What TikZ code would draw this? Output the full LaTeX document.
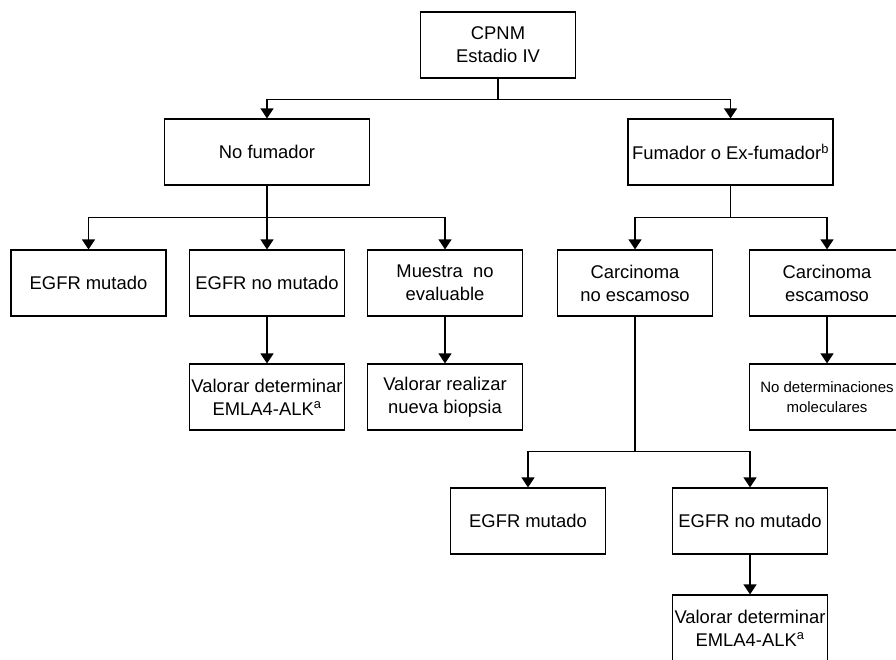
\documentclass[tikz,border=0pt]{standalone}
\usepackage{fontspec}
\setmainfont{Liberation Sans}
\usepackage{tikz}
\usetikzlibrary{arrows.meta}

\begin{document}
\begin{tikzpicture}[x=1pt, y=-1pt,
		box/.style={draw, line width=1.2pt, minimum width=155pt, minimum height=66pt, inner sep=0pt, align=center, font=\fontsize{18.4}{23}\selectfont},
		link/.style={draw, line width=1.2pt, -{Triangle[width=13pt, length=10pt]}}]
			\clip (0,0) rectangle (896,659);

			\node[box] (1) at (498,45) {CPNM\\Estadio IV};

			\node[box, minimum width=205pt] (2) at (267,152) {No fumador};
			\node[box, minimum width=205pt] (3) at (730.5,152) {Fumador o Ex-fumador\textsuperscript{b}};

			\node[box] (4) at (88.5,283) {EGFR mutado};
			\node[box] (5) at (267,283) {EGFR no mutado};
			\node[box] (6) at (445,283) {Muestra\ \ no\\evaluable};
			\node[box] (7) at (635,283) {Carcinoma\\no escamoso};
			\node[box] (8) at (827,283) {Carcinoma\\escamoso};

			\node[box] (9) at (267,397) {Valorar determinar\\EMLA4-ALK\textsuperscript{a}};
			\node[box] (10) at (445,397) {Valorar realizar\\nueva biopsia};
			\node[box, font=\fontsize{15}{20}\selectfont] (11) at (827,397) {No determinaciones\\moleculares};

			\node[box] (12) at (528,521) {EGFR mutado};
			\node[box] (13) at (750,521) {EGFR no mutado};

			\node[box] (14) at (750,628) {Valorar determinar\\EMLA4-ALK\textsuperscript{a}};

			\path[link] (1.south) -- ++(0,21) -| (2.north);
			\path[link] (1.south) -- ++(0,21) -| (3.north);
			\path[link] (2.south) -- ++(0,32) -| (4.north);
			\path[link] (2.south) -- (5.north);
			\path[link] (2.south) -- ++(0,32) -| (6.north);
			\path[link] (3.south) -- ++(0,32) -| (7.north);
			\path[link] (3.south) -- ++(0,32) -| (8.north);
			\path[link] (5) -- (9);
			\path[link] (6) -- (10);
			\path[link] (8) -- (11);
			\path[link] (7.south) -- ++(0,135) -| (12.north);
			\path[link] (7.south) -- ++(0,135) -| (13.north);
			\path[link] (13) -- (14);
        \end{tikzpicture}
\end{document}
